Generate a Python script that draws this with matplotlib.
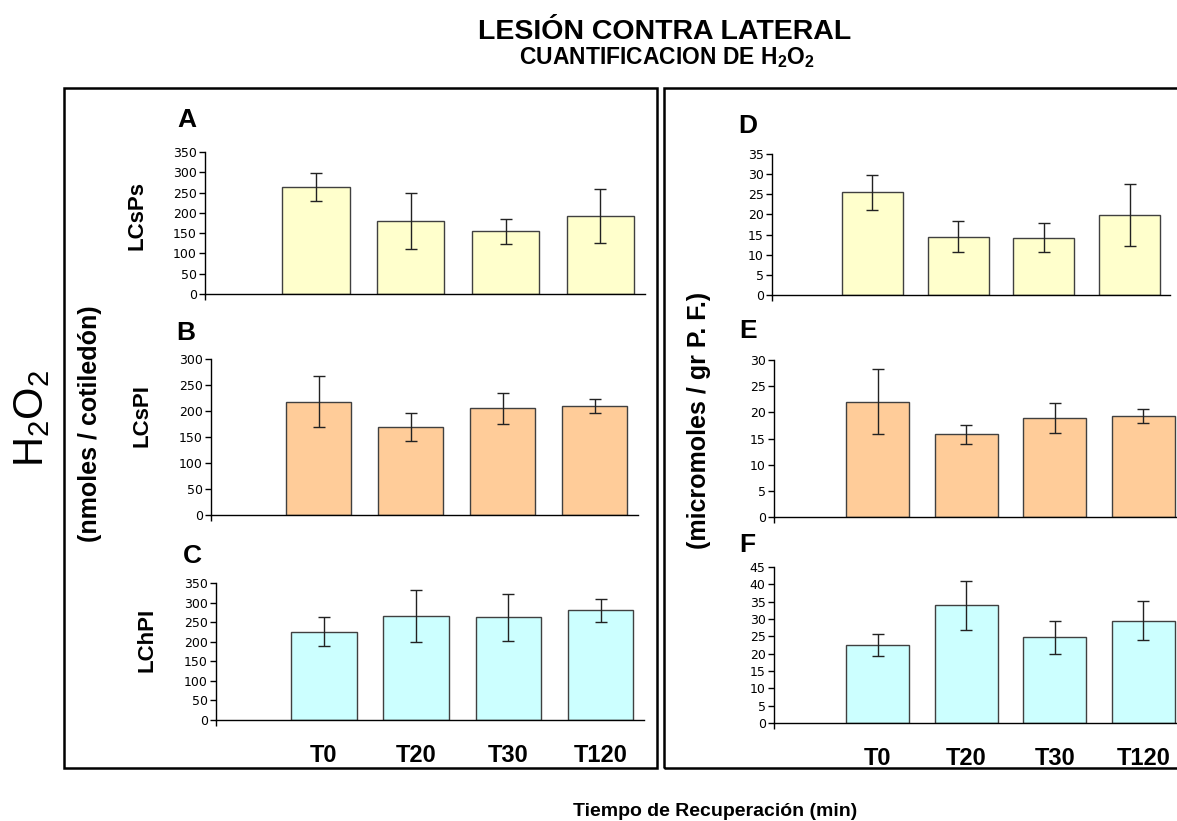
import matplotlib
matplotlib.use("Agg")
import matplotlib.pyplot as plt
from matplotlib.patches import Rectangle

plt.rcParams['font.family'] = ['Liberation Sans', 'DejaVu Sans']
plt.rcParams['mathtext.fontset'] = 'custom'
plt.rcParams['mathtext.rm'] = 'Liberation Sans'
plt.rcParams['mathtext.bf'] = 'Liberation Sans:bold'

# Datos
tiempos = ['T0', 'T20', 'T30', 'T120']

lcsps_nmol = [264, 180, 155, 192]
lcsps_nmol_err = [35, 70, 31, 66]
lcspi_nmol = [218, 169, 205, 210]
lcspi_nmol_err = [49, 27, 30, 13]
lchpi_nmol = [226, 266, 262, 280]
lchpi_nmol_err = [37, 67, 60, 30]

lcsps_umol = [25.5, 14.5, 14.2, 19.8]
lcsps_umol_err = [4.3, 3.9, 3.6, 7.7]
lcspi_umol = [22.0, 15.8, 18.9, 19.3]
lcspi_umol_err = [6.2, 1.8, 2.9, 1.4]
lchpi_umol = [22.4, 33.9, 24.7, 29.5]
lchpi_umol_err = [3.2, 7.1, 4.8, 5.6]

W, H = 1177, 821
fig = plt.figure(figsize=(W / 100, H / 100), dpi=100)


def fx(x):
    return x / W


def fy(y):
    return 1 - y / H


def panel(left, right, top, bottom, vals, errs, ymax, step, color, show_x):
    ax = fig.add_axes([fx(left), fy(bottom), fx(right - left), (bottom - top) / H])
    pos = range(len(vals))
    ax.bar(pos, vals, width=0.71, color=color, edgecolor='#404040', linewidth=1.0,
           yerr=errs, error_kw=dict(ecolor='#222222', elinewidth=1, capsize=4, capthick=1))
    ax.set_xlim(-1.17, 3.47)
    ax.set_ylim(0, ymax)
    ax.set_yticks(range(0, ymax + 1, step))
    for s in ['top', 'right']:
        ax.spines[s].set_visible(False)
    ax.spines['left'].set_linewidth(1)
    ax.spines['bottom'].set_linewidth(1)
    ax.tick_params(axis='y', direction='out', length=4, width=1, pad=2,
                   labelsize=9)
    for lb in ax.get_yticklabels():
        lb.set_family('DejaVu Sans')
    ax.set_xticks(list(pos))
    if show_x:
        ax.set_xticklabels(tiempos, fontsize=17, fontweight='bold')
    else:
        ax.set_xticklabels([])
    ax.tick_params(axis='x', length=0, pad=17)
    ax.set_xticks([-1.17], minor=True)
    ax.tick_params(axis='x', which='minor', length=4, width=1, direction='out')
    ax.patch.set_alpha(0)
    return ax


# Panel izquierdo (nmoles / cotiledon)
panel(205, 645, 152, 294, lcsps_nmol, lcsps_nmol_err, 350, 50, '#FFFFCC', False)
panel(211, 638, 359, 515, lcspi_nmol, lcspi_nmol_err, 300, 50, '#FFCC99', False)
panel(216, 644, 583, 720, lchpi_nmol, lchpi_nmol_err, 350, 50, '#CCFFFF', True)

# Panel derecho (micromoles / gr P. F.)
panel(772, 1170, 154, 295, lcsps_umol, lcsps_umol_err, 35, 5, '#FFFFCC', False)
panel(774, 1185, 360, 517, lcspi_umol, lcspi_umol_err, 30, 5, '#FFCC99', False)
panel(774, 1185, 567, 723, lchpi_umol, lchpi_umol_err, 45, 5, '#CCFFFF', True)

# Recuadros
fig.patches.append(Rectangle((fx(64), fy(768)), fx(657 - 64), (768 - 88) / H,
                             fill=False, edgecolor='black', linewidth=1.8,
                             transform=fig.transFigure))
fig.patches.append(Rectangle((fx(664), fy(768)), fx(1200 - 664), (768 - 88) / H,
                             fill=False, edgecolor='black', linewidth=1.8,
                             transform=fig.transFigure))

# Titulos
fig.text(fx(665), fy(39), 'LESIÓN CONTRA LATERAL', ha='center', va='baseline',
         fontsize=20.5, fontweight='bold')
fig.text(fx(667), fy(64), r'CUANTIFICACION DE H$_\mathbf{2}$O$_\mathbf{2}$',
         ha='center', va='baseline', fontsize=16.5, fontweight='bold')

# Letras de los paneles
for letra, x, y in [('A', 187, 127), ('B', 186, 340), ('C', 192, 563),
                    ('D', 748, 133), ('E', 748, 338), ('F', 747, 552)]:
    fig.text(fx(x), fy(y), letra, ha='center', va='baseline',
             fontsize=19, fontweight='bold')

# Etiquetas de las series
for nombre, x, y in [('LCsPs', 137, 216), ('LCsPI', 142, 416), ('LChPI', 147, 640)]:
    fig.text(fx(x), fy(y), nombre, rotation=90, ha='center', va='center',
             fontsize=16, fontweight='bold')

fig.text(fx(32), fy(418), r'H$_\mathrm{2}$O$_\mathrm{2}$', rotation=90,
         ha='center', va='center', fontsize=30)
fig.text(fx(90), fy(424), '(nmoles / cotiledón)', rotation=90,
         ha='center', va='center', fontsize=18, fontweight='bold')
fig.text(fx(699), fy(420), '(micromoles / gr P. F.)', rotation=90,
         ha='center', va='center', fontsize=18, fontweight='bold')

fig.text(fx(715), fy(816), 'Tiempo de Recuperación (min)', ha='center',
         va='baseline', fontsize=14, fontweight='bold')

fig.savefig('out.png', dpi=100)
